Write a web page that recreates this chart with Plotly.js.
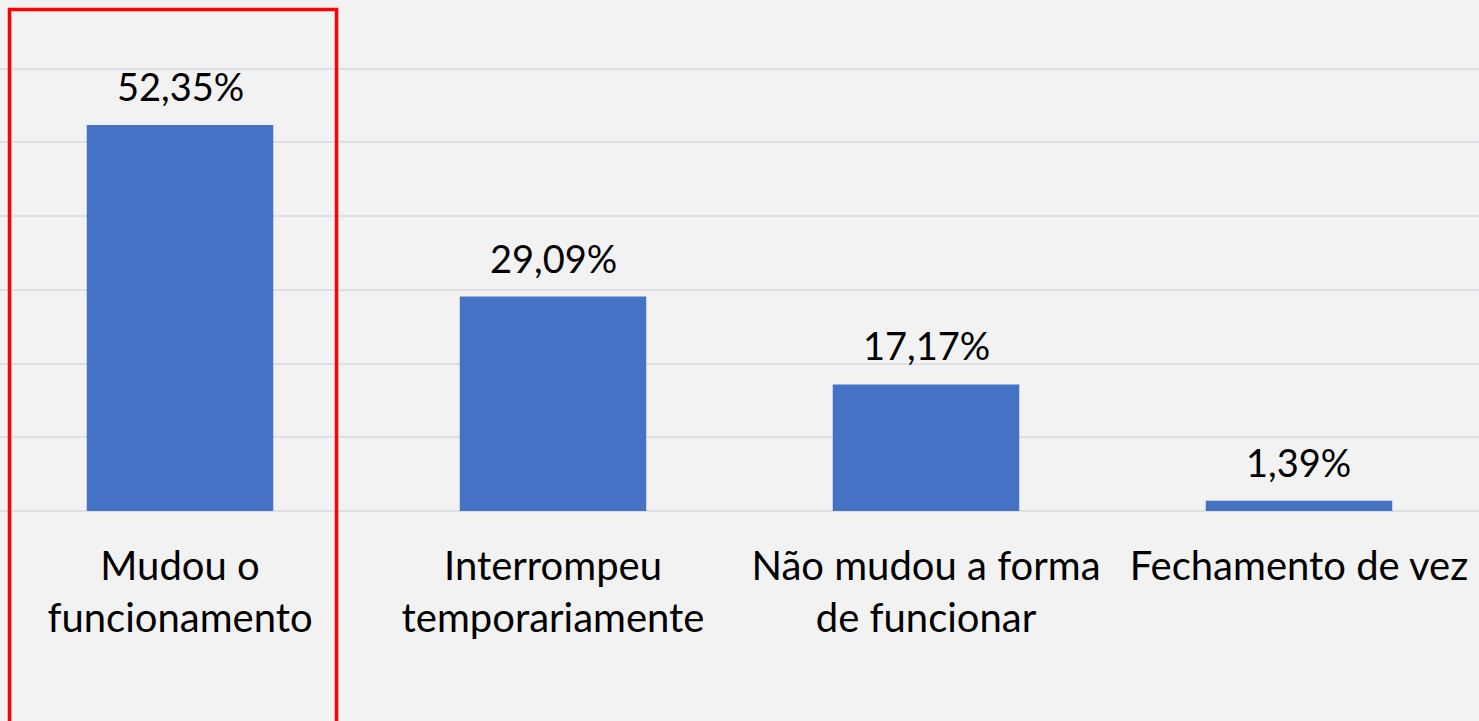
<!DOCTYPE html>
<html>
<head>
<meta charset="utf-8">
<script src="https://cdn.plot.ly/plotly-3.0.1.min.js"></script>
<style>html,body{margin:0;padding:0;background:#f2f2f2;}#chart{width:1479px;height:721px;}</style>
</head>
<body>
<div id="chart"></div>
<script>
const categories = ["Mudou o<br>funcionamento", "Interrompeu<br>temporariamente", "Não mudou a forma<br>de funcionar", "Fechamento de vez"];
const values = [52.35, 29.09, 17.17, 1.39];
const labels = ["52,35%", "29,09%", "17,17%", "1,39%"];

const FONT = "Lato, 'Noto Sans', sans-serif";
const idx = categories.map((c, i) => i);

const trace = {
  type: "bar",
  x: idx,
  y: values,
  marker: {color: "#4672c5", line: {width: 0}},
  hoverinfo: "none",
  showlegend: false
};

const annotations = values.map((v, i) => ({
  x: i, y: v, xref: "x", yref: "y",
  text: labels[i], showarrow: false,
  yanchor: "bottom", yshift: 14,
  font: {family: FONT, size: 38, color: "#000000"}
}));

const layout = {
  width: 1479, height: 721,
  margin: {l: 0, r: 0, t: 0, b: 210, pad: 0},
  paper_bgcolor: "#f2f2f2",
  plot_bgcolor: "#f2f2f2",
  bargap: 0.5,
  font: {family: FONT, size: 38, color: "#000000"},
  xaxis: {
    range: [-0.4826, 3.4826],
    tickmode: "array", tickvals: idx, ticktext: categories,
    showgrid: false, zeroline: false, showline: false,
    ticks: "", ticklabelstandoff: 28,
    tickfont: {family: FONT, size: 40, color: "#000000"},
    fixedrange: true
  },
  yaxis: {
    range: [0, 69.3],
    dtick: 10, tick0: 0,
    showgrid: true, gridcolor: "#dcdfe3", gridwidth: 2,
    zeroline: true, zerolinecolor: "#dcdfe3", zerolinewidth: 2,
    showticklabels: false, ticks: "", showline: false,
    fixedrange: true
  },
  annotations: annotations,
  shapes: [{
    type: "rect", xref: "paper", yref: "paper",
    x0: 9.5 / 1479, x1: 336.5 / 1479,
    y0: (511 - 9.5) / 511, y1: (511 - 740) / 511,
    line: {color: "#ff0000", width: 3.5},
    fillcolor: "rgba(0,0,0,0)",
    layer: "above"
  }]
};

Plotly.newPlot("chart", [trace], layout, {staticPlot: true, displayModeBar: false});
</script>
</body>
</html>
